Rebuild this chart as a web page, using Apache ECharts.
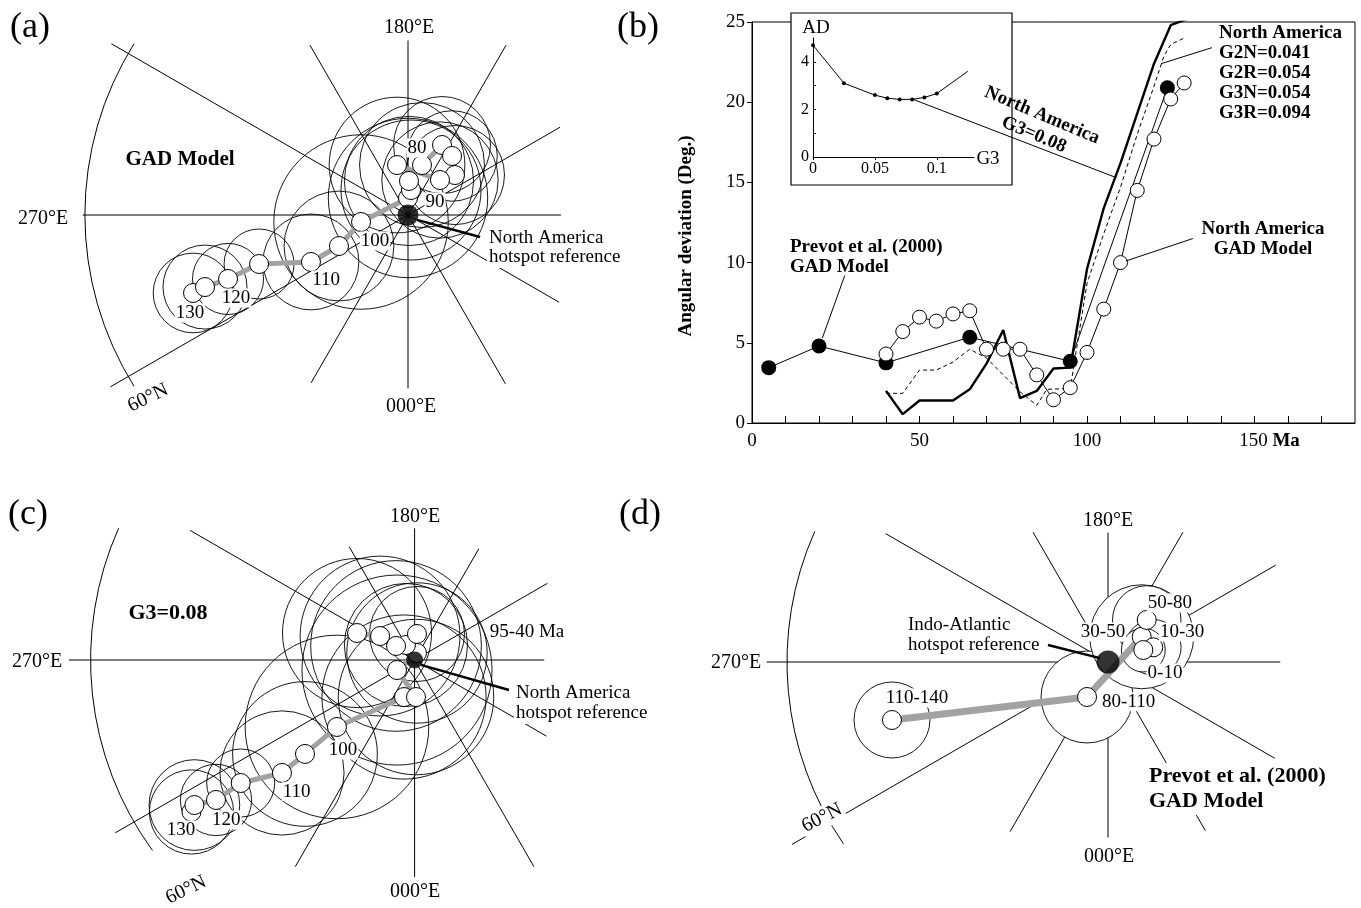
<!DOCTYPE html>
<html><head><meta charset="utf-8">
<script src="https://cdn.jsdelivr.net/npm/echarts@6/dist/echarts.min.js"></script>
<style>html,body{margin:0;padding:0;background:#fff}#c{width:1361px;height:908px}</style>
</head><body><div id="c"></div>
<script>
const SERIF = "'Liberation Serif','Times New Roman',Times,serif";

// ---------- Panel (b): angular deviation vs age ----------
const AGE_PREVOT = [5, 20, 40, 65, 95, 124];
const AD_PREVOT  = [3.45, 4.8, 3.75, 5.35, 3.85, 20.9];
const AGE_NA_GAD = [40,45,50,55,60,65,70,75,80,85,90,95,100,105,110,115,120,125,129];
const AD_NA_GAD  = [4.3,5.7,6.6,6.35,6.8,7.0,4.6,4.6,4.6,3.0,1.45,2.2,4.4,7.1,10.0,14.5,17.7,20.2,21.2];
const AGE_NA_G3  = [40,45,50,60,65,70,75,80,85,90,95,100,105,110,115,120,125,130];
const AD_NA_G3   = [2.0,0.55,1.4,1.4,2.1,3.7,5.8,1.55,2.0,3.4,3.45,9.6,13.4,16.2,19.3,22.4,24.8,25.2];
const AGE_NA_G2  = [40,45,50,55,60,65,70,80,85,88,95,100,105,110,115,120,123,125,129];
const AD_NA_G2   = [1.85,1.85,3.3,3.3,3.8,4.6,4.05,1.95,1.1,2.1,2.15,8.7,11.8,14.7,18.0,21.0,22.9,23.6,24.0];
// inset: AD vs G3
const G3_INSET = [0,0.025,0.05,0.06,0.07,0.08,0.09,0.1,0.125];
const AD_INSET = [4.7,3.1,2.6,2.47,2.42,2.42,2.5,2.67,3.6];
// leader lines (age, deg)
const LEAD_PREVOT = [[27.7,9.2],[21.0,5.3]];
const LEAD_GAD    = [[131.6,11.5],[111.6,10.1]];
const LEAD_G2     = [[137.3,23.4],[122.1,22.4]];
const LEAD_G3     = [[47.8,20.2],[108.7,15.3]];

// ---------- Polar panels (projected degrees from pole) ----------
const MERID_ANG = [0,30,60,90,120,150,180,210,240,270,300,330];

// (a) GAD model
const POLE_A_X = [-19.96,-18.85,-16.71,-13.83,-9.01,-6.41,-4.36,0,0.28,0.09,1.30,3.16,4.09,4.36,2.97,-1.02];
const POLE_A_Y = [-7.24,-6.69,-5.94,-4.55,-4.36,-2.88,-0.65,1.58,2.32,3.16,4.64,6.50,5.48,3.71,3.25,4.64];
const A95_A    = [3.7,3.9,3.3,3.25,4.45,5.1,8.1,7.4,6.5,6.0,5.8,4.5,4.2,4.6,5.4,6.3];
const LABEL_A  = ['130','120','110','100','90','80'];
const LABEL_A_X = [-20.24,-15.97,-7.61,-3.06,2.51,0.84];
const LABEL_A_Y = [-9.10,-7.71,-6.04,-2.41,1.21,6.22];
const MERID_LEN_A = [14.2,16.3,18.2,16.2,18.2,31.8,30.2,31.9,18.0,16.1,18.1,16.2];
const ARC_A = [30,148,212];
const LEAD_A = [[6.69,-2.04],[0.84,-0.46]];

// (c) G3 = 0.08
const POLE_C_X = [-20.66,-20.39,-18.39,-16.10,-12.28,-10.15,-7.19,-0.98,0.13,-1.63,0.22,-0.80,0.22,-1.72,-3.20,-5.33];
const POLE_C_Y = [-14.07,-13.43,-12.96,-11.39,-10.46,-8.70,-6.20,-3.43,-3.43,-0.93,0.65,1.39,2.41,1.30,2.22,2.50];
const A95_C    = [3.9,4.2,3.3,3.15,5.75,6.7,8.5,7.6,7.2,8.8,6.5,5.7,4.4,7.9,7.4,6.9];
const LABEL_C  = ['130','120','110','100'];
const LABEL_C_X = [-21.63,-17.43,-10.92,-6.63];
const LABEL_C_Y = [-15.74,-14.81,-12.19,-8.33];
const MERID_LEN_C = [12.0,14.2,11.9,12.2,12.1,24.0,32.0,32.0,22.1,20.1,22.1,14.1];
const ARC_C = [30,156,216];
const LEAD_C = [[8.74,-2.78],[0.59,-0.46]];

// (d) Prevot et al. (2000)
const POLE_D_NAME = ['110-140','80-110','30-50','50-80','10-30','0-10'];
const POLE_D_X = [-20.19,-1.96,3.15,3.62,4.23,3.30];
const POLE_D_Y = [-5.42,-3.27,2.36,3.93,1.37,1.12];
const A95_D    = [3.55,4.3,4.86,3.2,2.6,2.05];
const TRACK_D_N = 3; // poles joined by the track
const LABEL_D_X = [-17.85,1.93,-0.47,5.79,6.92,5.33];
const LABEL_D_Y = [-3.36,-3.71,2.80,5.51,2.80,-1.03];
const MERID_LEN_D = [16.1,18.1,14.0,12.1,14.0,24.0,31.9,34.1,18.3,16.4,18.2,18.0];
const ARC_D = [30,156,214.5];
const LEAD_D = [[-5.61,1.59],[-0.75,0.37]];
const REF_POLE = [0,0];

// ---------- layout ----------
const LAY = {
  a: {grid:{left:40,top:20,width:560,height:420}, cx:408, cy:215, s:10.77},
  c: {grid:{left:40,top:495,width:580,height:410}, cx:414.6, cy:660, s:10.8},
  d: {grid:{left:700,top:495,width:640,height:410}, cx:1108, cy:662, s:10.7}
};
function ext(L){return {
  x:[(L.grid.left-L.cx)/L.s,(L.grid.left+L.grid.width-L.cx)/L.s],
  y:[(L.cy-(L.grid.top+L.grid.height))/L.s,(L.cy-L.grid.top)/L.s]};}
const EA=ext(LAY.a), EC=ext(LAY.c), ED=ext(LAY.d);

const grids = [LAY.a.grid,
  {left:752, top:22, width:603, height:401, show:true, borderColor:'#000', borderWidth:1, backgroundColor:'transparent'},
  {left:813, top:38, width:161, height:119},
  LAY.c.grid, LAY.d.grid];
const hid = (gi,e)=>({gridIndex:gi,type:'value',min:e[0],max:e[1],show:false});

const xAxes = [hid(0,EA.x),
  {gridIndex:1,type:'value',min:0,max:180,interval:10,
   axisLine:{lineStyle:{color:'#000',width:1}}, splitLine:{show:false},
   axisTick:{inside:true,length:7,lineStyle:{color:'#000'}},
   axisLabel:{color:'#000',fontFamily:SERIF,fontSize:19,margin:9,showMaxLabel:false,
     formatter:v=> v===150 ? '{s| }150 {m|Ma}' : (v%50===0 ? String(v) : ''),
     rich:{s:{width:30},m:{fontWeight:'bold',fontFamily:SERIF,fontSize:19,color:'#000'}}}},
  {gridIndex:2,type:'value',min:0,max:0.13,interval:0.05,z:7,
   axisLine:{lineStyle:{color:'#000'}}, splitLine:{show:false},
   axisTick:{length:3,lineStyle:{color:'#000'}},
   axisLabel:{color:'#000',fontFamily:SERIF,fontSize:16,margin:4,showMaxLabel:false,
     formatter:v=> v===0?'0':(Math.abs(v-0.05)<1e-9?'0.05':(Math.abs(v-0.1)<1e-9?'0.1':''))}},
  hid(3,EC.x), hid(4,ED.x)];
const yAxes = [hid(0,EA.y),
  {gridIndex:1,type:'value',min:0,max:25,interval:5,
   axisLine:{lineStyle:{color:'#000'}}, splitLine:{show:false},
   axisTick:{length:5,lineStyle:{color:'#000'}},
   axisLabel:{color:'#000',fontFamily:SERIF,fontSize:19,margin:7}},
  {gridIndex:2,type:'value',min:0,max:5,interval:1,z:7,
   axisLine:{lineStyle:{color:'#000'}}, splitLine:{show:false},
   axisTick:{length:3,inside:true,lineStyle:{color:'#000'}},
   axisLabel:{color:'#000',fontFamily:SERIF,fontSize:16,margin:4,showMaxLabel:false,
     formatter:v=> v%2===0?String(v):''}},
  hid(3,EC.y), hid(4,ED.y)];

const zip=(a,b)=>a.map((x,i)=>[x,b[i]]);

function meridians(gi, lens){
  return {type:'custom',xAxisIndex:gi,yAxisIndex:gi,z:1,silent:true,clip:false,
    data: MERID_ANG.map((a,i)=>[a,lens[i]]),
    renderItem:(p,api)=>{const a=api.value(0)*Math.PI/180,L=api.value(1);
      const p0=api.coord([0,0]),p1=api.coord([L*Math.cos(a),L*Math.sin(a)]);
      return {type:'line',shape:{x1:p0[0],y1:p0[1],x2:p1[0],y2:p1[1]},style:{stroke:'#000',lineWidth:1}};}};
}
function arc(gi, A){
  return {type:'custom',xAxisIndex:gi,yAxisIndex:gi,z:1,silent:true,clip:false,
    data:[A],
    renderItem:(p,api)=>{const c=api.coord([0,0]);const r=api.size([api.value(0),0])[0];
      return {type:'arc',shape:{cx:c[0],cy:c[1],r:r,startAngle:-api.value(2)*Math.PI/180,endAngle:-api.value(1)*Math.PI/180,clockwise:true},
        style:{stroke:'#000',fill:'none',lineWidth:1}};}};
}
function circles(gi, xs, ys, rs, fill){
  return {type:'custom',xAxisIndex:gi,yAxisIndex:gi,z:2,silent:true,clip:false,
    data: xs.map((x,i)=>[x,ys[i],rs[i]]),
    renderItem:(p,api)=>{const c=api.coord([api.value(0),api.value(1)]);const r=api.size([api.value(2),0])[0];
      return {type:'circle',shape:{cx:c[0],cy:c[1],r:r},style:{fill:fill,stroke:'#000',lineWidth:0.9}};}};
}
function track(gi, xs, ys, w){
  return {type:'line',xAxisIndex:gi,yAxisIndex:gi,z:3,silent:true,symbol:'none',
    data:zip(xs,ys),lineStyle:{color:'#a2a2a2',width:w}};
}
function poles(gi, xs, ys, size){
  return {type:'scatter',xAxisIndex:gi,yAxisIndex:gi,z:4,silent:true,symbol:'circle',symbolSize:size,
    data:zip(xs,ys),itemStyle:{color:'#fff',borderColor:'#000',borderWidth:1,opacity:1}};
}
function refDot(gi, size){
  return {type:'scatter',xAxisIndex:gi,yAxisIndex:gi,z:5,silent:true,symbol:'circle',symbolSize:size,
    data:[REF_POLE],itemStyle:{color:'#000'}};
}
function leader(gi, pts, w, z){
  return {type:'line',xAxisIndex:gi,yAxisIndex:gi,z:z||5,silent:true,symbol:'none',
    data:pts,lineStyle:{color:'#000',width:w}};
}
function labels(gi, names, xs, ys, bg){
  return {type:'custom',xAxisIndex:gi,yAxisIndex:gi,z:7,silent:true,clip:false,
    data: xs.map((x,i)=>[x,ys[i]]),
    renderItem:(p,api)=>{const c=api.coord([api.value(0),api.value(1)]);
      const st={text:names[p.dataIndex],font:'19px '+SERIF,fill:'#000',
        align:'center',verticalAlign:'middle',textAlign:'center',textVerticalAlign:'middle'};
      if(bg){st.backgroundColor='#fff';st.padding=[0,1];}
      return {type:'text',x:c[0],y:c[1],style:st};}};
}

const series = [
  // (a)
  meridians(0, MERID_LEN_A), arc(0, ARC_A),
  circles(0, POLE_A_X, POLE_A_Y, A95_A, 'none'),
  track(0, POLE_A_X, POLE_A_Y, 5),
  poles(0, POLE_A_X, POLE_A_Y, 19), refDot(0, 21),
  leader(0, LEAD_A, 2.4),
  labels(0, LABEL_A, LABEL_A_X, LABEL_A_Y, true),
  // (c)
  meridians(3, MERID_LEN_C), arc(3, ARC_C),
  circles(3, POLE_C_X, POLE_C_Y, A95_C, 'none'),
  track(3, POLE_C_X, POLE_C_Y, 5),
  refDot(3, 17), poles(3, POLE_C_X, POLE_C_Y, 19),
  leader(3, LEAD_C, 2.4),
  labels(3, LABEL_C, LABEL_C_X, LABEL_C_Y, true),
  // (d)
  meridians(4, MERID_LEN_D), arc(4, ARC_D),
  circles(4, POLE_D_X, POLE_D_Y, A95_D, '#fff'),
  track(4, POLE_D_X.slice(0,TRACK_D_N), POLE_D_Y.slice(0,TRACK_D_N), 7),
  poles(4, POLE_D_X, POLE_D_Y, 19), refDot(4, 23),
  leader(4, LEAD_D, 2.4),
  labels(4, POLE_D_NAME, LABEL_D_X, LABEL_D_Y, true),
  // (b)
  {type:'line',xAxisIndex:1,yAxisIndex:1,z:2,silent:true,symbol:'none',data:zip(AGE_NA_G3,AD_NA_G3),lineStyle:{color:'#000',width:2.4}},
  {type:'line',xAxisIndex:1,yAxisIndex:1,z:2,silent:true,symbol:'none',data:zip(AGE_NA_G2,AD_NA_G2),lineStyle:{color:'#000',width:1,type:[4,3]}},
  {type:'line',xAxisIndex:1,yAxisIndex:1,z:3,silent:true,symbol:'circle',symbolSize:15,data:zip(AGE_PREVOT,AD_PREVOT),
    itemStyle:{color:'#000'},lineStyle:{color:'#000',width:1}},
  {type:'line',xAxisIndex:1,yAxisIndex:1,z:4,silent:true,symbol:'circle',symbolSize:14,data:zip(AGE_NA_GAD,AD_NA_GAD),
    itemStyle:{color:'#fff',borderColor:'#000',borderWidth:1},lineStyle:{color:'#000',width:1}},
  leader(1, LEAD_PREVOT, 1, 5), leader(1, LEAD_GAD, 1, 5), leader(1, LEAD_G2, 1, 5), leader(1, LEAD_G3, 1, 10),
  {type:'line',xAxisIndex:2,yAxisIndex:2,z:8,silent:true,symbol:'circle',symbolSize:4,
    data:zip(G3_INSET,AD_INSET).map((v,i,arr)=> i===arr.length-1?{value:v,symbol:'none'}:v),
    itemStyle:{color:'#000'},lineStyle:{color:'#000',width:1}}
];

function T(text,x,y,size,opt){
  opt=opt||{};
  const st={text:text,font:(opt.bold?'bold ':'')+size+'px '+SERIF,fill:'#000',
    align:opt.align||'center',textAlign:opt.align||'center',verticalAlign:'middle',textVerticalAlign:'middle'};
  if(opt.lh) st.lineHeight=opt.lh;
  if(opt.bg){st.backgroundColor='#fff';st.padding=[1,2];}
  return {type:'text',x:x,y:y,rotation:opt.rot||0,z:20,silent:true,style:st};
}
const graphics = [
  {type:'rect',shape:{x:791,y:13,width:221,height:172},z:6,silent:true,style:{fill:'#fff',stroke:'#000',lineWidth:1.2}},
  T('(a)',30,28,36), T('(b)',638,28,36), T('(c)',28,515,36), T('(d)',640,515,36),
  // (a)
  T('180°E',409,28,20), T('000°E',411,407,20), T('270°E',43,219,20), T('60°N',148,398,20,{rot:0.45,bg:true}),
  T('GAD Model',180,160,21,{bold:true}),
  T('North America\nhotspot reference',487,248,19,{align:'left',lh:19,bg:true}),
  // (b)
  T('Angular deviation (Deg.)',686,236,19,{bold:true,rot:Math.PI/2}),
  T('North America\nG3=0.08',1038,125,19,{bold:true,rot:-0.40,lh:21}),
  T('North America\nG2N=0.041\nG2R=0.054\nG3N=0.054\nG3R=0.094',1219,73,19,{bold:true,align:'left',lh:20}),
  T('North America\nGAD Model',1263,239,19,{bold:true,lh:19.5}),
  T('Prevot et al. (2000)\nGAD Model',790,257,19,{bold:true,align:'left',lh:19.5}),
  T('AD',816,28,19), T('G3',988,159,19),
  // (c)
  T('180°E',415,517,20), T('000°E',415,892,20), T('270°E',37,662,20), T('60°N',186,890,20,{rot:0.45}),
  T('G3=0.08',168,613,22,{bold:true}),
  T('95-40 Ma',527,632,19),
  T('North America\nhotspot reference',514,703,19,{align:'left',lh:20,bg:true}),
  // (d)
  T('180°E',1108,521,20), T('000°E',1109,857,20), T('270°E',736,663,20), T('60°N',822,818,20,{rot:0.47,bg:true}),
  T('Indo-Atlantic\nhotspot reference',908,635,19,{align:'left',lh:20}),
  T('Prevot et al. (2000)\nGAD Model',1147,789,22,{bold:true,align:'left',lh:25,bg:true})
];

const chart = echarts.init(document.getElementById('c'), null, {renderer:'canvas'});
chart.setOption({
  animation:false, backgroundColor:'#fff',
  grid:grids, xAxis:xAxes, yAxis:yAxes, series:series, graphic:{elements:graphics}
});
</script></body></html>
